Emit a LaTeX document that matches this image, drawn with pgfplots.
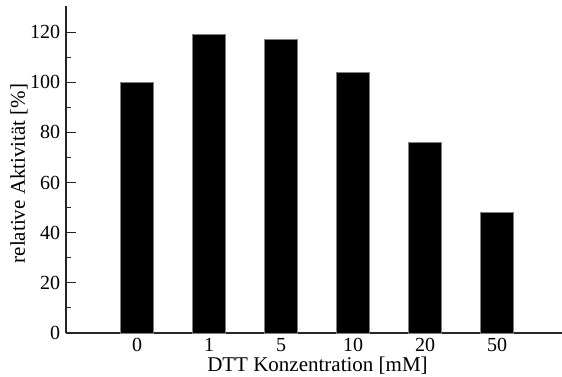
\documentclass[border=0pt]{standalone}
\usepackage{fontspec}
\setmainfont{Liberation Serif}
\usepackage{pgfplots}
\pgfplotsset{compat=1.18}
\begin{document}
\begin{tikzpicture}
\fontsize{20}{24}\selectfont
\begin{axis}[
  scale only axis,
  width=496pt, height=327pt,
  at={(0,0)}, anchor=south west,
  xmin=-0.986, xmax=5.9,
  ymin=0, ymax=130.4,
  axis x line=bottom, axis y line=left,
  axis line style={-, line width=1.2pt, black!85},
  ybar, bar width=33pt,
  xtick={0,1,2,3,4,5},
  xticklabels={0,1,5,10,20,50},
  x tick style={draw=none},
  ytick={0,20,40,60,80,100,120},
  minor y tick num=1,
  tick align=inside,
  major tick length=10pt, minor tick length=5pt,
  y tick style={line width=1.1pt, black!85},
  /pgf/number format/assume math mode=true,
  ticklabel style={font=\fontsize{20}{24}\selectfont},
  label style={font=\fontsize{21}{25}\selectfont},
  xticklabel style={anchor=base, yshift=-18.5pt, inner sep=0pt, text depth=0pt},
  yticklabel style={xshift=1pt},
  xlabel={DTT Konzentration [mM]},
  ylabel={relative Aktivit\"at [\%]},
  xlabel style={at={(axis description cs:0.507,-0.118)}, anchor=base, inner sep=0pt, text height=13pt},
  ylabel style={at={(axis description cs:-0.0827,0.488)}, anchor=base, inner sep=0pt},
  clip=false,
]
\addplot[fill=black, draw=black!50, line width=0.6pt] coordinates {
  (0,100) (1,119) (2,117) (3,104) (4,76) (5,48)
};
\end{axis}
\pgfresetboundingbox
\path[use as bounding box] (-66pt,-43pt) rectangle (496pt,333pt);
\end{tikzpicture}
\end{document}
